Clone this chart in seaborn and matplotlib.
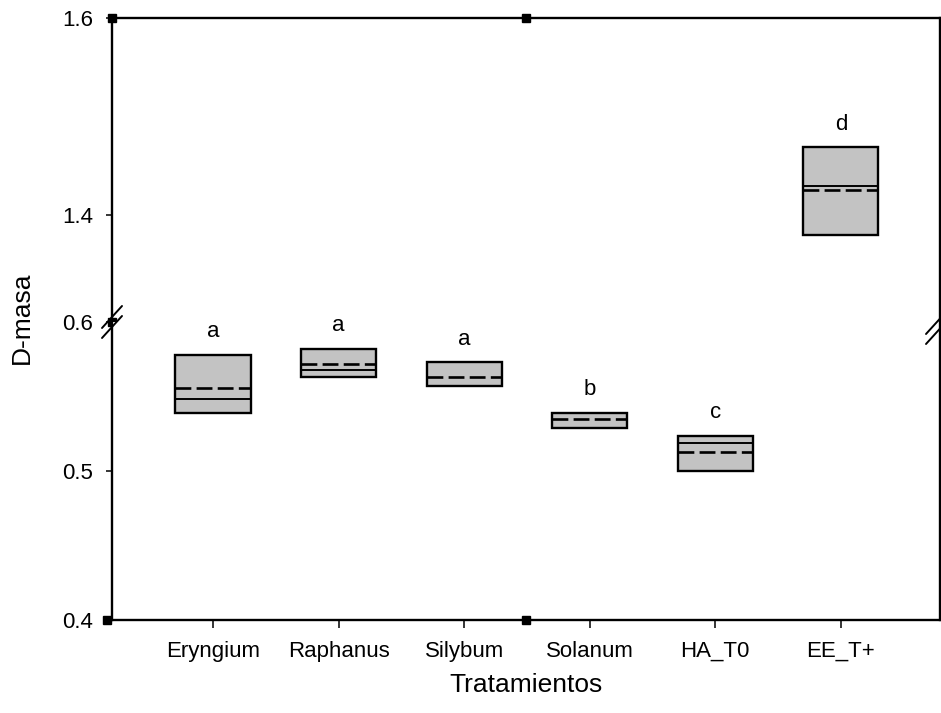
import numpy as np
import seaborn as sns
import matplotlib.pyplot as plt
from matplotlib.lines import Line2D

# datos
tratamientos = ["Eryngium", "Raphanus", "Silybum", "Solanum", "HA_T0", "EE_T+"]
q_inf = [0.539, 0.563, 0.557, 0.529, 0.500, 1.380]
q_sup = [0.578, 0.582, 0.573, 0.539, 0.5235, 1.469]
medias = [0.556, 0.572, 0.563, 0.535, 0.513, 1.425]
medianas = [0.548, 0.568, 0.557, 0.529, 0.519, 1.429]
letras = ["a", "a", "a", "b", "c", "d"]

sns.set_style("white")
plt.rcParams['font.family'] = ['Liberation Sans', 'DejaVu Sans']
plt.rcParams.update({"text.color": "black", "axes.labelcolor": "black",
                     "xtick.color": "black", "ytick.color": "black"})

W, H = 941, 713
fig = plt.figure(figsize=(W / 100, H / 100), dpi=100)

x0, x1 = 112, 940
y_top, y_brk, y_bot = 18, 322, 620
ax_up = fig.add_axes([x0 / W, 1 - y_brk / H, (x1 - x0) / W, (y_brk - y_top) / H])
ax_lo = fig.add_axes([x0 / W, 1 - y_bot / H, (x1 - x0) / W, (y_bot - y_brk) / H])

alturas = np.array(q_sup) - np.array(q_inf)
pos = np.arange(len(tratamientos))

for ax in (ax_up, ax_lo):
    sns.barplot(x=tratamientos, y=alturas, bottom=q_inf, color="#c3c3c3",
                saturation=1, edgecolor="black", linewidth=1.7, width=0.6,
                errorbar=None, ax=ax)
    ax.hlines(medianas, pos - 0.3, pos + 0.3, colors="black", lw=1.4)
    ax.hlines(medias, pos - 0.3, pos + 0.3, colors="black", lw=1.9,
              linestyles=(0, (6, 2)))
    for i, (t, l) in enumerate(zip(q_sup, letras)):
        ax.annotate(l, (i, t), xytext=(0, 23), textcoords="offset pixels",
                    ha="center", va="center", fontsize=16)
    ax.set_xlim(-0.805, 5.79)
    for s in ax.spines.values():
        s.set_linewidth(1.7)
        s.set_color("black")
    ax.tick_params(axis="y", direction="out", length=4.5, width=1.1,
                   labelsize=16, pad=9, left=True)
    ax.set_ylabel("")

ax_up.set_ylim(1.2914, 1.6)
ax_up.set_yticks([1.4, 1.6])
ax_up.set_yticklabels(["1.4", "1.6"])
ax_up.spines["bottom"].set_visible(False)
ax_up.set_xticks([])
ax_up.set_xlabel("")

ax_lo.set_ylim(0.4, 0.6)
ax_lo.set_yticks([0.4, 0.5, 0.6])
ax_lo.set_yticklabels(["0.4", "0.5", "0.6"])
ax_lo.spines["top"].set_visible(False)
ax_lo.tick_params(axis="x", direction="out", length=6, width=1.1,
                  labelsize=16, pad=9, bottom=True)
ax_lo.set_xlabel("Tratamientos", fontsize=19, labelpad=8)

fig.text(22 / W, 1 - 318 / H, "D-masa", rotation=90, ha="center",
         va="center", fontsize=19)

# cuadritos negros de SigmaPlot
for ax, pts in ((ax_up, [(0, 1), (0.5, 1), (0, 0)]), (ax_lo, [(-0.006, 0), (0.5, 0)])):
    for px, py in pts:
        ax.plot(px, py, "s", ms=5.5, color="black", transform=ax.transAxes,
                clip_on=False, zorder=5)

# marcas de corte del eje
def corte(xc, yc):
    for dy in (-5, 5):
        yy = yc + dy
        fig.add_artist(Line2D([(xc - 10) / W, (xc + 10) / W],
                              [1 - (yy + 11) / H, 1 - (yy - 11) / H],
                              color="black", lw=1.4, transform=fig.transFigure))

corte(112, 322)
corte(936, 328)

fig.savefig("out.png", dpi=100)
